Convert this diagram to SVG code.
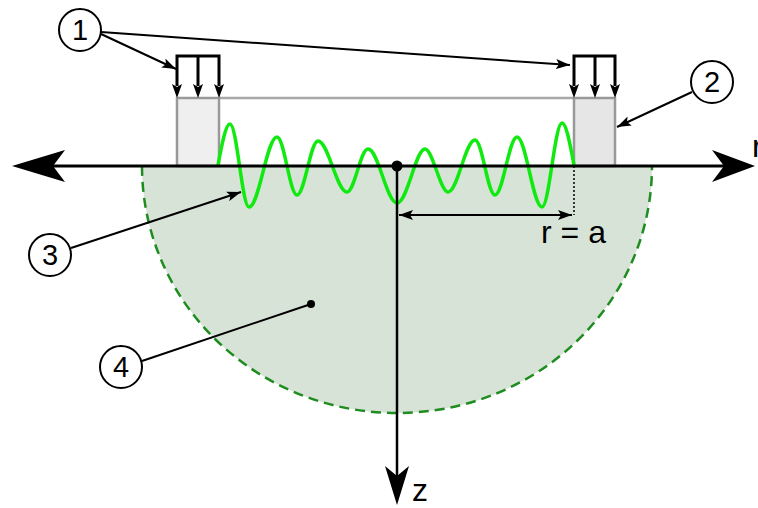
<svg xmlns="http://www.w3.org/2000/svg" width="758" height="508" viewBox="0 0 758 508">
<defs>
<style>
.lbl{font-family:"Liberation Sans",Arial,sans-serif;fill:#000}
.num{font-family:"Liberation Sans",Arial,sans-serif;font-size:29px;text-anchor:middle;fill:#000}
.circ{fill:#fff;stroke:#000;stroke-width:2}
.lead{stroke:#000;stroke-width:2;fill:none}
.brk{stroke:#000;stroke-width:3;fill:none}
</style>
<marker id="ah" viewBox="0 0 14 10" refX="14" refY="5" markerWidth="14" markerHeight="10" markerUnits="userSpaceOnUse" orient="auto">
<path d="M0,0 L14,5 L0,10 L3,5 Z" fill="#000"/>
</marker>
<marker id="dim" viewBox="0 0 14 10" refX="14" refY="5" markerWidth="14" markerHeight="10" markerUnits="userSpaceOnUse" orient="auto-start-reverse">
<path d="M0,0 L14,5 L0,10 L3,5 Z" fill="#000"/>
</marker>
</defs>

<g id="halfspace">
<path d="M142,166 A255,247 0 0 0 652,166 Z" fill="#d7e3d7" stroke="none"/>
<path d="M142,166 A255,247 0 0 0 652,166" fill="none" stroke="#1e8c1e" stroke-width="2.5" stroke-dasharray="10,6"/>
</g>

<g id="blocks">
<line x1="219" y1="98" x2="574" y2="98" stroke="#a8a8a8" stroke-width="2.5"/>
<rect x="177" y="98" width="42" height="68" fill="#efefef" stroke="#999" stroke-width="2.5"/>
<rect x="574" y="98" width="41" height="68" fill="#e6e6e6" stroke="#999" stroke-width="2.5"/>
</g>

<g id="wave">
<path d="M218,165 C221.9,144 225.7,124 230,124 C236.9,124 242.1,207 249,207 C259.2,207 266.8,137 277,137 C284.3,137 289.7,195 297,195 C304.6,195 310.4,141 318,141 C328.5,141 336.5,192 347,192 C354.6,192 360.4,149 368,149 C378.5,149 386.5,203 397,203 C407.5,203 415.5,149 425,149 C432.6,149 440.4,192 448,192 C457.8,192 465.2,140 475,140 C482.3,140 487.7,195 495,195 C503,195 509,137 517,137 C526.1,137 532.9,207 542,207 C549.3,207 554.7,123 562,123 C566.3,123 570.1,144 574,165" fill="none" stroke="#10ea10" stroke-width="3.5"/>
</g>

<g id="axes">
<line x1="22" y1="166" x2="745" y2="166" stroke="#000" stroke-width="3"/>
<path d="M12,166 L65,150 L53,166 L65,182 Z" fill="#000"/>
<path d="M755,166 L712,150 L724,166 L712,182 Z" fill="#000"/>
<line x1="397" y1="166" x2="397" y2="480" stroke="#000" stroke-width="2.5"/>
<path d="M397,505 L385,466 L397,476 L409,466 Z" fill="#000"/>
<circle cx="397" cy="166" r="5.5" fill="#000"/>
<text class="lbl" x="752" y="157" font-size="32">r</text>
<text class="lbl" x="412" y="501" font-size="32">z</text>
</g>

<g id="pressure-left">
<path class="brk" d="M177,86 V56 H219 V86 M198,56 V86"/>
<path d="M172,84 L177,98 L182,84 L177,87 Z M193,84 L198,98 L203,84 L198,87 Z M214,84 L219,98 L224,84 L219,87 Z" fill="#000"/>
</g>
<g id="pressure-right">
<path class="brk" d="M574,86 V56 H615 V86 M595,56 V86"/>
<path d="M569,84 L574,98 L579,84 L574,87 Z M590,84 L595,98 L600,84 L595,87 Z M610,84 L615,98 L620,84 L615,87 Z" fill="#000"/>
</g>

<g id="dimension">
<line x1="574" y1="166" x2="574" y2="215" stroke="#000" stroke-width="1.5" stroke-dasharray="2,2"/>
<line x1="399" y1="215" x2="572" y2="215" stroke="#000" stroke-width="2" marker-start="url(#dim)" marker-end="url(#dim)"/>
<text class="lbl" x="541" y="243" font-size="32">r = a</text>
</g>

<g id="connectors">
<line class="lead" x1="101" y1="34" x2="176" y2="69" marker-end="url(#ah)"/>
<line class="lead" x1="101" y1="32" x2="570" y2="65" marker-end="url(#ah)"/>
<line class="lead" x1="692" y1="92" x2="617" y2="127" marker-end="url(#ah)"/>
<line class="lead" x1="71" y1="248" x2="241" y2="192" marker-end="url(#ah)"/>
<line class="lead" x1="142" y1="361" x2="311" y2="304"/>
<circle cx="311" cy="304" r="4" fill="#000"/>
</g>

<g id="label-1"><circle class="circ" cx="80" cy="30" r="21"/><text class="num" x="80" y="40">1</text></g>
<g id="label-2"><circle class="circ" cx="712" cy="82" r="21"/><text class="num" x="712" y="92">2</text></g>
<g id="label-3"><circle class="circ" cx="50" cy="255" r="21"/><text class="num" x="50" y="265">3</text></g>
<g id="label-4"><circle class="circ" cx="121" cy="367" r="21"/><text class="num" x="121" y="377">4</text></g>
</svg>
